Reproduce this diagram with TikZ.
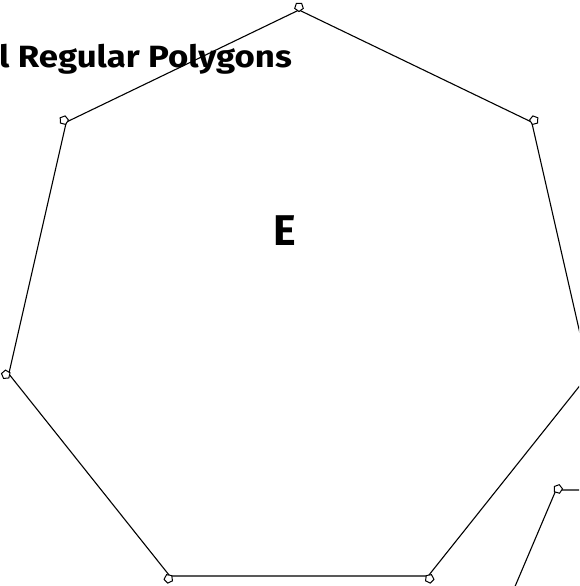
\documentclass[tikz,border=0pt]{standalone}
\usepackage{fontspec}
\setmainfont{Fira Sans}
\usetikzlibrary{shapes.geometric,calc}
\tikzset{
  edge/.style={draw=black, line width=1.1pt},
  vmark/.style={draw=black, fill=white, line width=1pt, regular polygon, regular polygon sides=5, inner sep=0pt, minimum size=9pt},
  title/.style={font=\bfseries\fontsize{29}{33}\selectfont, inner sep=0pt},
  big/.style={font=\bfseries\fontsize{43}{48}\selectfont, inner sep=0pt}
}
\begin{document}
\begin{tikzpicture}[x=1pt,y=-1pt]
\useasboundingbox (0,0) rectangle (579,586);
\clip (0,0) rectangle (579,586);
\coordinate (c) at (299,307.7);
\coordinate (v0) at (299,10);
\coordinate (v1) at (531.7,122.1);
\coordinate (v2) at (589.2,373.9);
\coordinate (v3) at (428.2,576.0);
\coordinate (v4) at (169.8,576.0);
\coordinate (v5) at (8.8,373.9);
\coordinate (v6) at (66.3,122.1);
\coordinate (w0) at (556,490);
\coordinate (w1) at (620,490);
\coordinate (w2) at (505,610);
\node[title, anchor=base east] (t) at (292,67) {\scalebox{1.2}[1.06]{l Regular Polygons}};
\node[big, anchor=base] (e) at (285,245) {E};
\draw[edge] (v0) -- (v1) -- (v2) -- (v3) -- (v4) -- (v5) -- (v6) -- cycle;
\draw[edge] (w1) -- (w0) -- (w2);
\foreach \v/\r in {v0/180, v1/231.4, v2/282.9, v3/334.3, v4/25.7, v5/77.1, v6/128.6} {
  \node[vmark, rotate=\r] (m\v) at ($(\v)!-3pt!(c)$) {};
}
\node[vmark, rotate=200] (mw0) at ($(w0)+(2,-1)$) {};
\end{tikzpicture}
\end{document}
